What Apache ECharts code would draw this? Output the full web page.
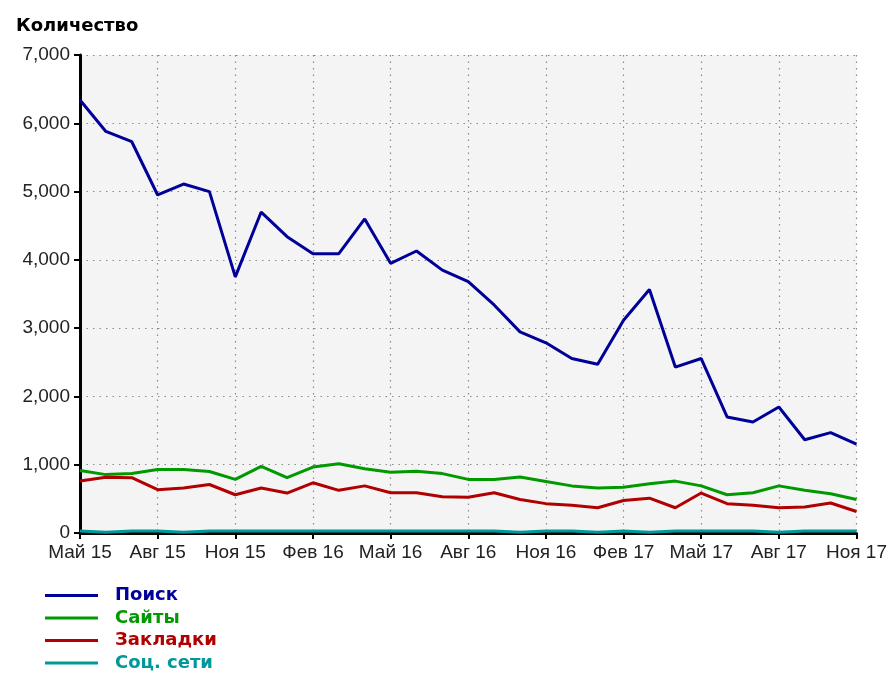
<!DOCTYPE html>
<html><head><meta charset="utf-8">
<script src="https://cdn.jsdelivr.net/npm/echarts@6/dist/echarts.min.js"></script>
<style>html,body{margin:0;padding:0;background:#fff}#c{width:890px;height:673px}</style>
</head><body><div id="c"></div>
<script>
const months = ['Май 15','Июн 15','Июл 15','Авг 15','Сен 15','Окт 15','Ноя 15','Дек 15','Янв 16','Фев 16','Мар 16','Апр 16',
  'Май 16','Июн 16','Июл 16','Авг 16','Сен 16','Окт 16','Ноя 16','Дек 16','Янв 17','Фев 17','Мар 17','Апр 17',
  'Май 17','Июн 17','Июл 17','Авг 17','Сен 17','Окт 17','Ноя 17'];
const search = [6340,5880,5730,4950,5110,5000,3750,4700,4340,4090,4090,4600,3950,4130,3850,3680,3340,2945,2785,2555,2470,3115,3565,2430,2555,1700,1625,1845,1365,1470,1300];
const sites = [915,855,870,930,930,900,785,975,810,965,1015,940,890,905,870,785,785,820,755,690,660,670,720,760,690,560,590,690,625,575,490];
const bookmarks = [760,815,810,635,660,710,560,660,585,735,625,690,590,590,530,525,590,490,430,405,370,475,510,370,585,430,405,370,380,440,315];
const social = [30,10,30,30,10,30,30,30,30,30,30,30,30,30,30,30,30,10,30,30,10,30,10,30,30,30,30,10,30,30,30];
const seriesNames = ['Поиск','Сайты','Закладки','Соц. сети'];
const colors = ['#000099','#009900','#b00000','#009999'];
const yTicks = [0,1000,2000,3000,4000,5000,6000,7000];

const chart = echarts.init(document.getElementById('c'), null, {renderer:'canvas'});
const font = 'Liberation Sans, Arial, sans-serif';
const bold = 'DejaVu Sans, Verdana, sans-serif';
const grid = {type:[1.5,5], color:'#8a8a8a', width:1.2};
chart.setOption({
  animation:false,
  title:{text:'Количество', left:11, top:12, textStyle:{fontFamily:bold, fontWeight:'bold', fontSize:18, color:'#000'}},
  grid:{left:80, right:33, top:55, bottom:140, show:true, backgroundColor:'#f4f4f4', borderWidth:0},
  legend:{orient:'vertical', left:45, top:586, padding:0, itemWidth:53, itemHeight:3, itemGap:3.5, icon:'rect',
    textStyle:{fontFamily:bold, fontWeight:'bold', fontSize:18, lineHeight:19, padding:[0,0,0,12]},
    data: seriesNames.map((n,i)=>({name:n, textStyle:{color:colors[i]}}))},
  xAxis:{type:'category', data:months, boundaryGap:false,
    axisLine:{lineStyle:{color:'#000', width:3}},
    axisTick:{interval:2, length:6, lineStyle:{color:'#000', width:2}},
    axisLabel:{interval:2, margin:10, fontFamily:font, fontSize:19, color:'#222'},
    splitLine:{show:true, interval:2, lineStyle:grid}},
  yAxis:{type:'value', min:yTicks[0], max:yTicks[yTicks.length-1], interval:1000,
    axisLine:{show:true, lineStyle:{color:'#000', width:3}},
    axisTick:{show:true, length:6, lineStyle:{color:'#000', width:2}},
    axisLabel:{margin:10, fontFamily:font, fontSize:19, color:'#222',
      formatter:v=>v.toLocaleString('en-US')},
    splitLine:{show:true, lineStyle:grid}},
  series:[search,sites,bookmarks,social].map((d,i)=>({
    name:seriesNames[i], type:'line', data:d, symbol:'none', color:colors[i],
    lineStyle:{width:3, color:colors[i]}, z:10-i}))
});
</script></body></html>
